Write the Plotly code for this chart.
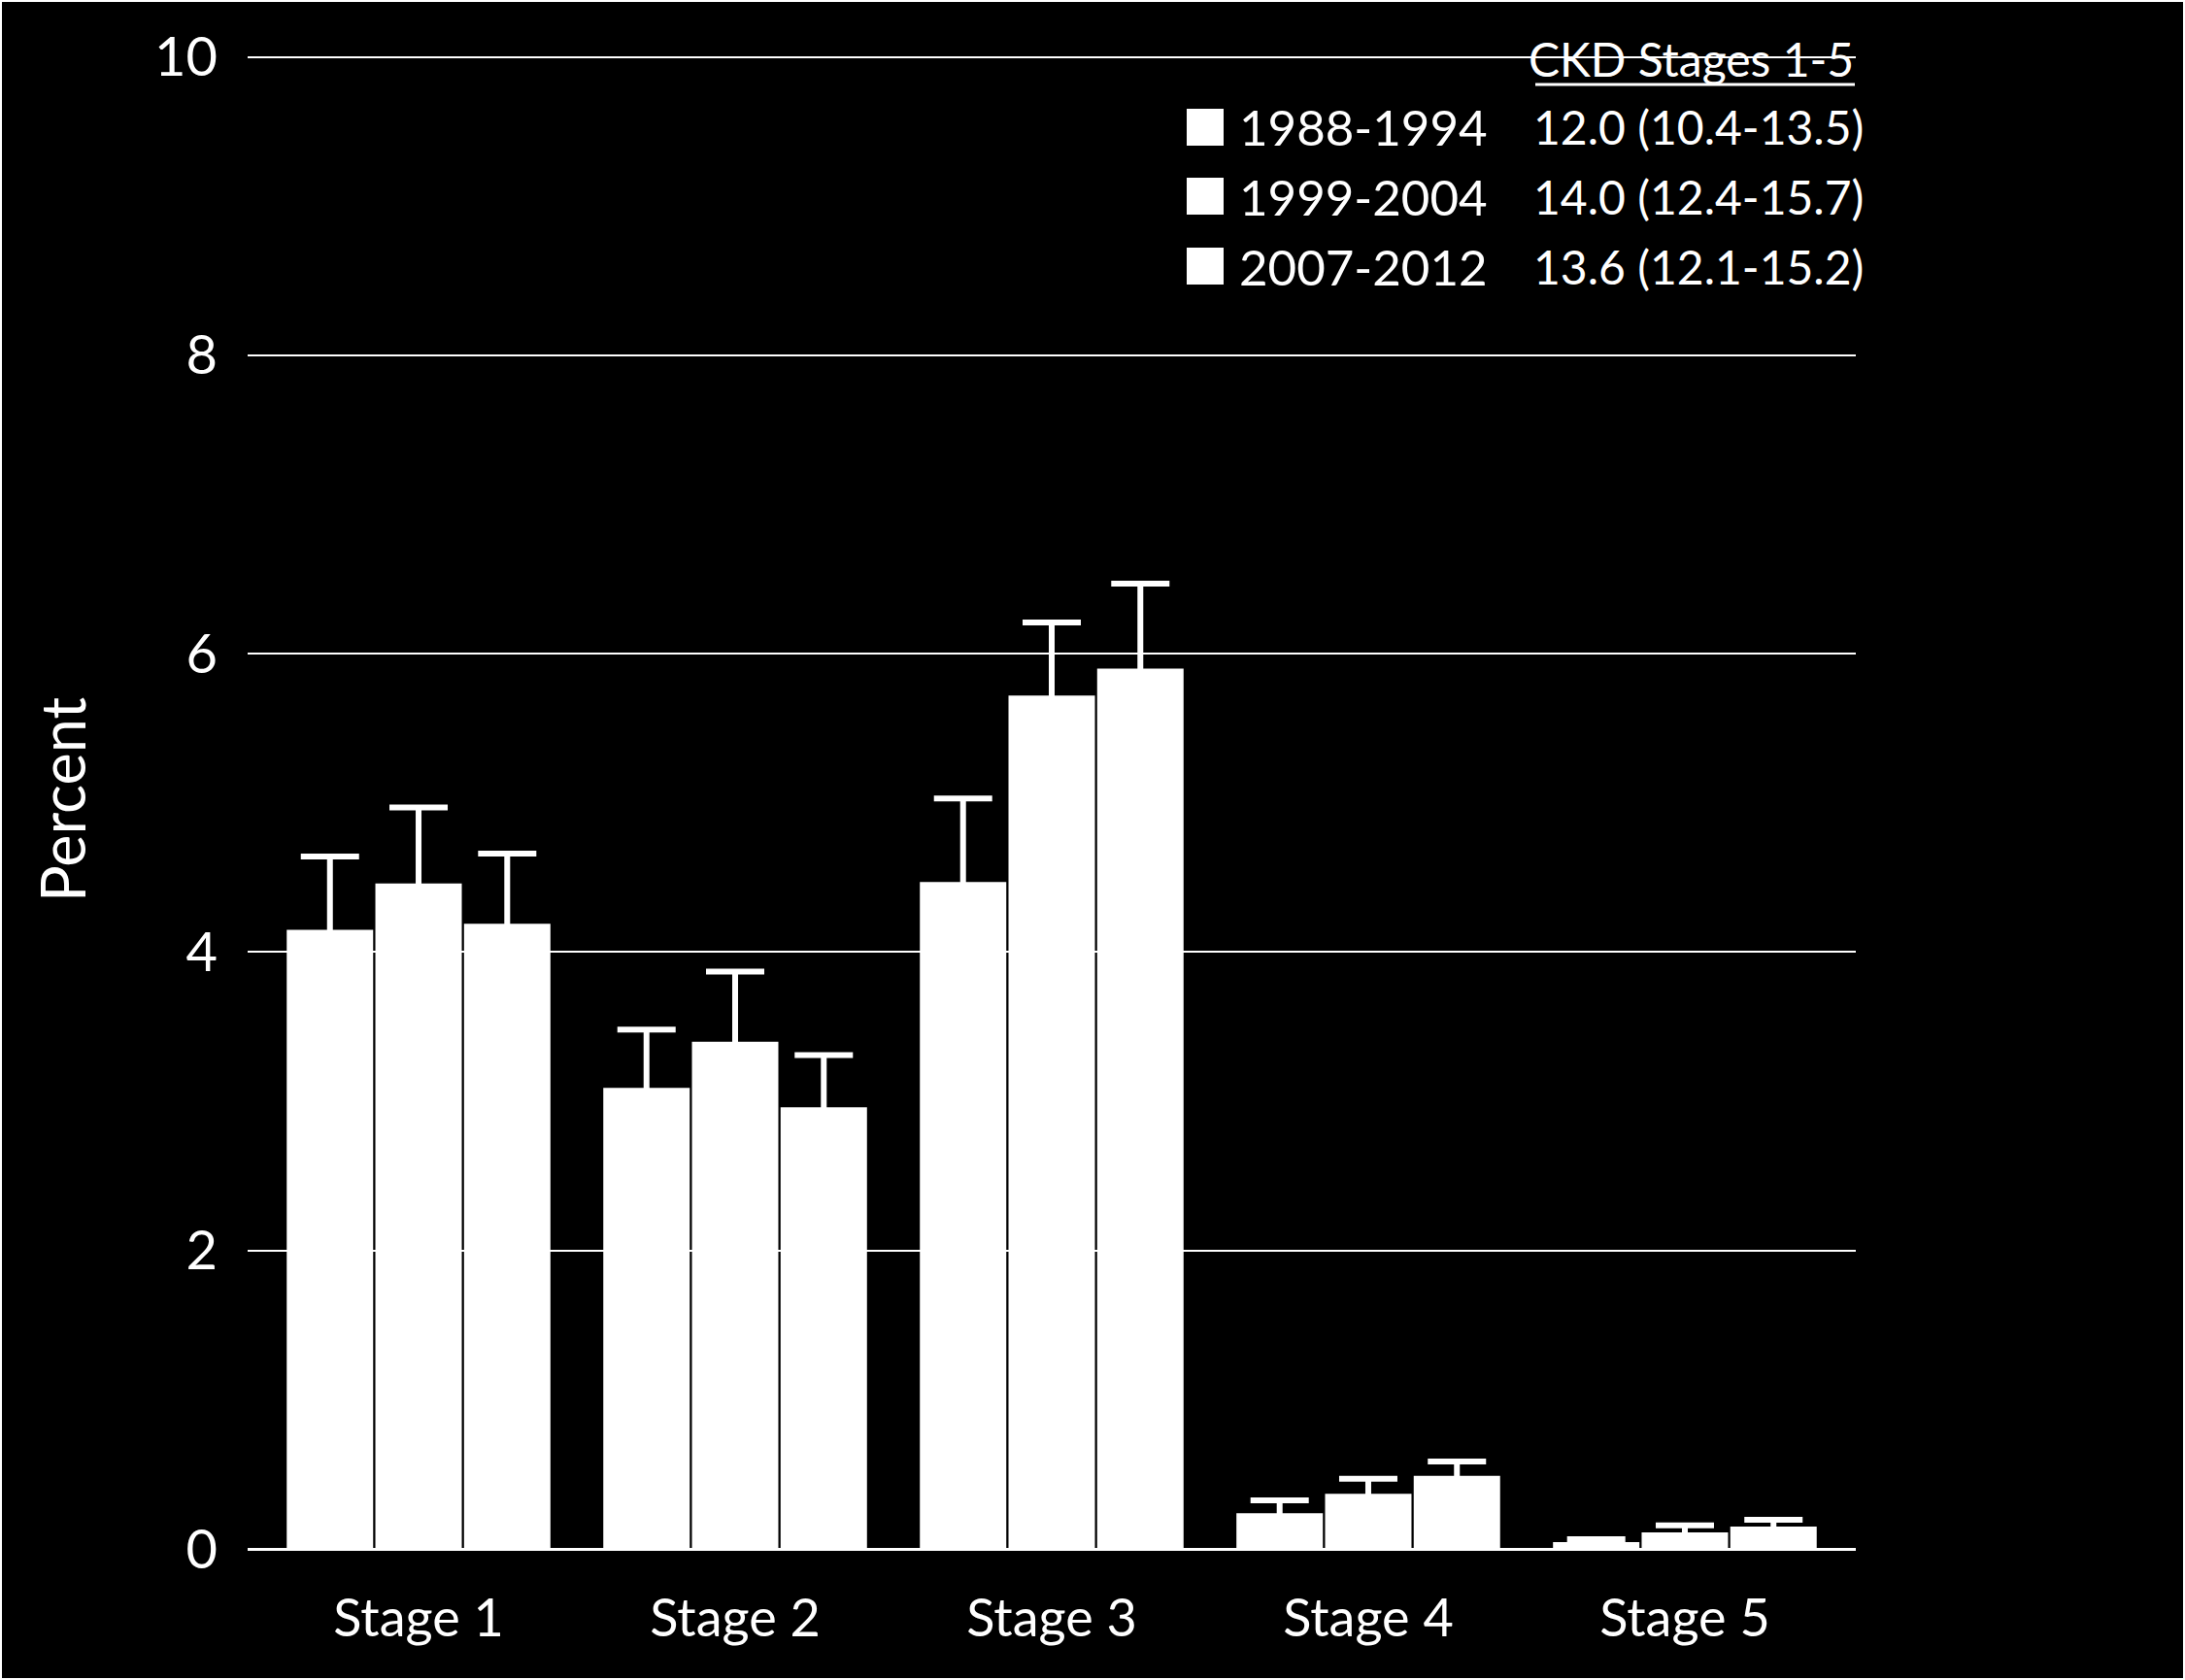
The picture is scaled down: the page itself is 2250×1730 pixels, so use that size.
import plotly.graph_objects as go

categories = ["Stage 1", "Stage 2", "Stage 3", "Stage 4", "Stage 5"]
periods = ["1988-1994", "1999-2004", "2007-2012"]
overall = ["12.0 (10.4-13.5)", "14.0 (12.4-15.7)", "13.6 (12.1-15.2)"]

vals_1988 = [4.15, 3.09, 4.47, 0.24, 0.045]
vals_1999 = [4.46, 3.40, 5.72, 0.37, 0.11]
vals_2007 = [4.19, 2.96, 5.90, 0.49, 0.15]

upper_1988 = [4.64, 3.48, 5.03, 0.325, 0.065]
upper_1999 = [4.97, 3.87, 6.21, 0.47, 0.158]
upper_2007 = [4.66, 3.31, 6.47, 0.586, 0.195]

yticks = [0, 2, 4, 6, 8, 10]

FONT = "Lato"
W, H = 2250, 1730
YMAX = 10.03
PX_PER_UNIT = (1595 - 59) / 10.0
B = H - 1595
T = int(round(1595 - YMAX * PX_PER_UNIT))
L, R = 255, W - 1911
PW, PH = W - L - R, H - T - B


def px_x(px):
    return (px - L) / PW


def px_y(py):
    return (H - B - py) / PH


fig = go.Figure()
series = [(vals_1988, upper_1988), (vals_1999, upper_1999), (vals_2007, upper_2007)]
for name, (v, u) in zip(periods, series):
    fig.add_trace(go.Bar(
        x=categories, y=v, name=name,
        marker=dict(color="white", line=dict(width=0)),
        error_y=dict(type="data", symmetric=True,
                     array=[b - a for a, b in zip(v, u)],
                     color="white", thickness=6, width=30),
        showlegend=False,
    ))

fig.update_layout(
    width=W, height=H,
    margin=dict(l=L, r=R, t=T, b=B, autoexpand=False),
    paper_bgcolor="black", plot_bgcolor="black",
    barmode="group", bargap=0.16, bargroupgap=0.025,
    font=dict(family=FONT, color="white"),
    xaxis=dict(range=[-0.54, 4.54], showgrid=False, zeroline=False, showline=False,
               ticks="", tickfont=dict(size=54, family=FONT, color="white"),
               ticklabelstandoff=35),
    yaxis=dict(range=[0, YMAX], tickvals=yticks, showgrid=True, gridcolor="white",
               gridwidth=2, zeroline=True, zerolinecolor="white", zerolinewidth=3,
               showline=False, ticks="", tickfont=dict(size=56, family=FONT, color="white"),
               ticklabelstandoff=30),
)

# y title
fig.add_annotation(x=px_x(64), y=px_y(824), xref="paper", yref="paper", text="Percent",
                   textangle=-90, showarrow=False, font=dict(size=63, family=FONT, color="white"),
                   xanchor="center", yanchor="middle")

# legend
row_y = [131, 202, 274]
for yy, lab, ov in zip(row_y, periods, overall):
    fig.add_shape(type="rect", xref="paper", yref="paper",
                  x0=px_x(1222), x1=px_x(1260), y0=px_y(yy + 19), y1=px_y(yy - 19),
                  fillcolor="white", line=dict(width=0))
    fig.add_annotation(x=px_x(1274), y=px_y(yy), xref="paper", yref="paper", text=lab,
                       showarrow=False, xanchor="left", yanchor="middle",
                       font=dict(size=51, family=FONT, color="white"))
    fig.add_annotation(x=px_x(1921), y=px_y(yy), xref="paper", yref="paper", text=ov,
                       showarrow=False, xanchor="right", yanchor="middle",
                       font=dict(size=48, family=FONT, color="white"))

fig.add_annotation(x=px_x(1911), y=px_y(60), xref="paper", yref="paper", text="CKD Stages 1-5",
                   showarrow=False, xanchor="right", yanchor="middle",
                   font=dict(size=48, family=FONT, color="white"))
fig.add_shape(type="line", xref="paper", yref="paper",
              x0=px_x(1581), x1=px_x(1910), y0=px_y(87), y1=px_y(87),
              line=dict(color="white", width=3))

# outer border
fig.add_shape(type="rect", xref="paper", yref="paper",
              x0=px_x(1), x1=px_x(W - 1), y0=px_y(H - 1), y1=px_y(1),
              line=dict(color="white", width=2), fillcolor="rgba(0,0,0,0)", layer="above")

fig.write_html("out.html", config={"displayModeBar": False},
               post_script="document.body.style.margin='0';document.body.style.background='black';")
